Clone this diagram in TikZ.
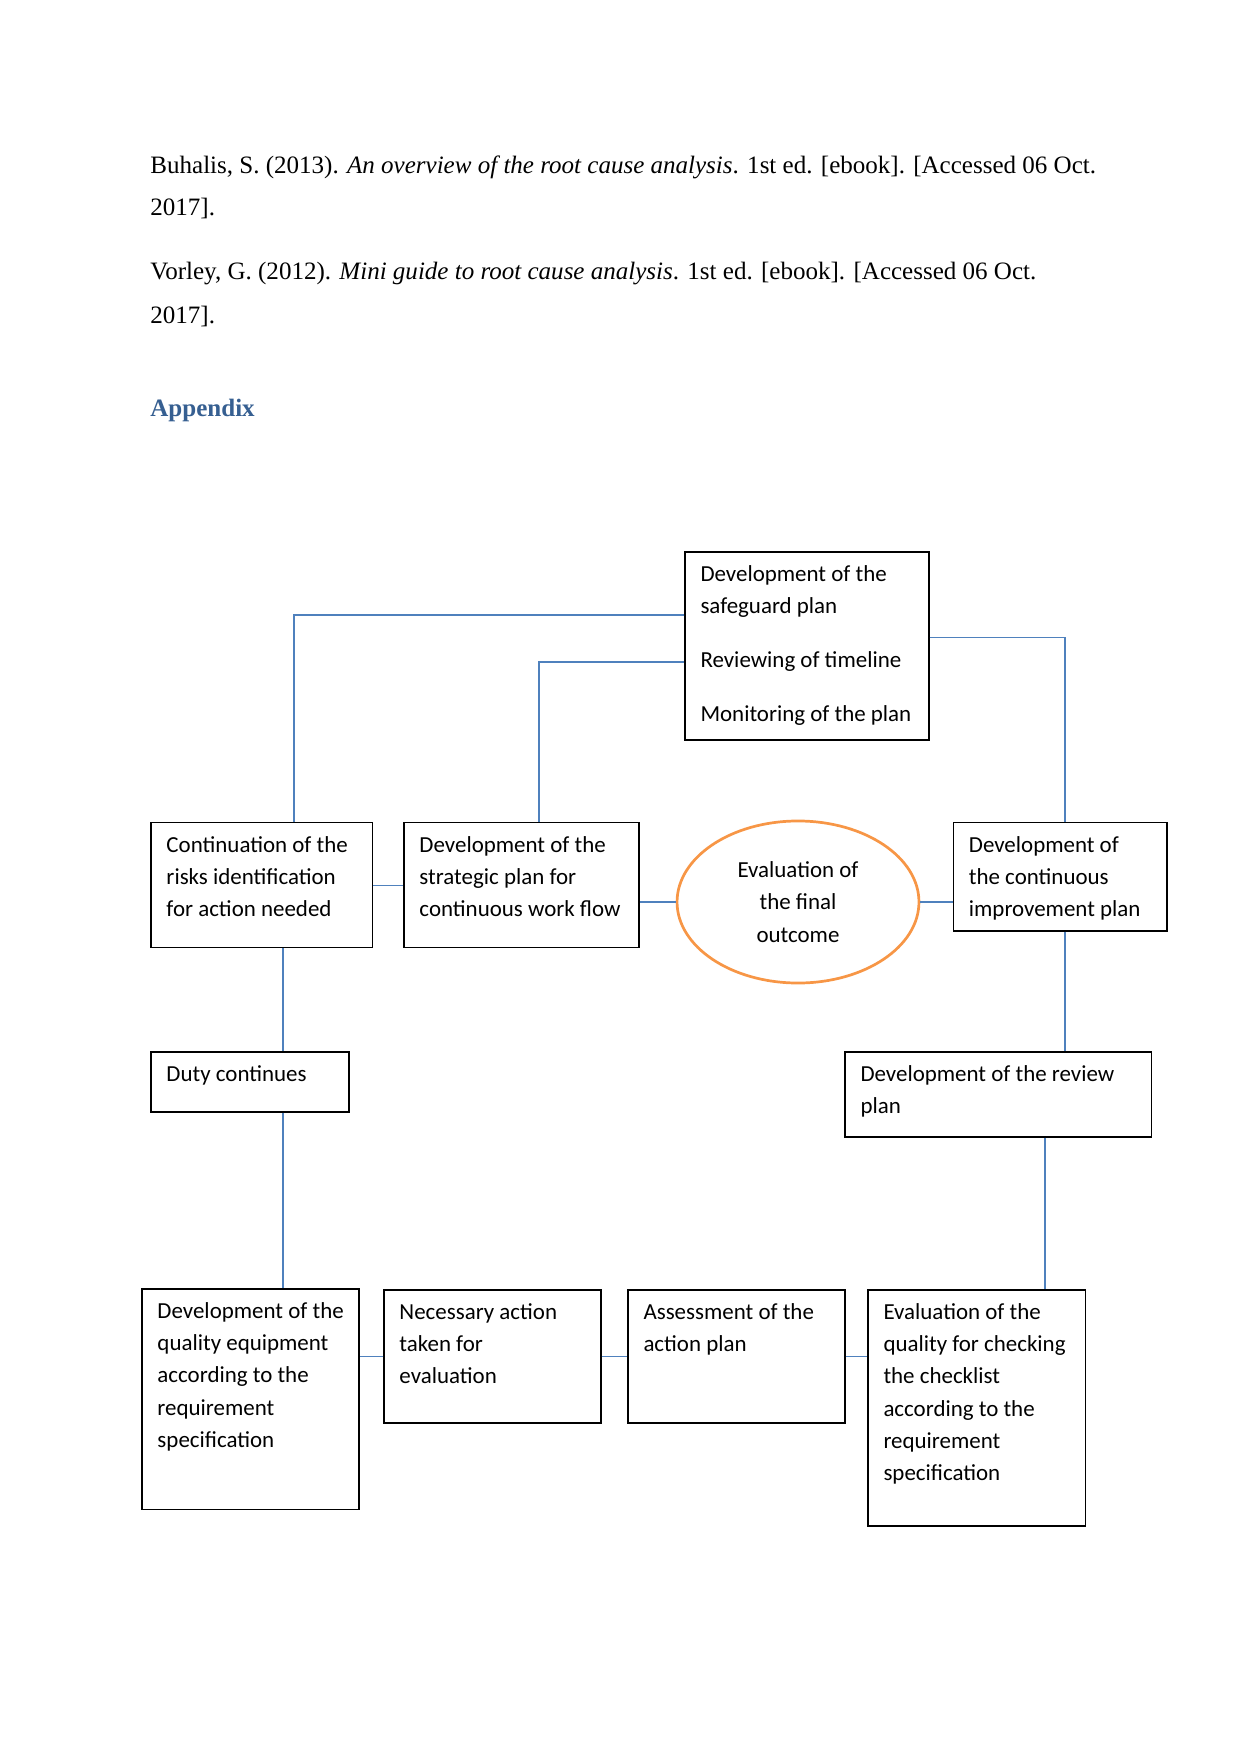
\documentclass[tikz,border=0pt]{standalone}
\usepackage{fontspec}
\setmainfont{Liberation Serif}
\newfontfamily\boxfont{Carlito}
\usetikzlibrary{fit,shapes.geometric,calc}
\definecolor{connblue}{HTML}{4F81BD}
\definecolor{ellorange}{HTML}{F79646}
\definecolor{headblue}{HTML}{365F91}
\tikzset{
  boxnode/.style={draw=black, line width=0.6pt, inner sep=0pt, fit={#1}},
  txt/.style={inner sep=0pt, anchor=north west, align=left, font=\boxfont\fontsize{11}{15.4}\selectfont},
  conn/.style={draw=connblue, line width=0.55pt},
  reftext/.style={inner sep=0pt, anchor=base west, font=\fontsize{12}{14}\selectfont}
}
\begin{document}
\begin{tikzpicture}[x=0.4795pt,y=-0.4795pt]
\useasboundingbox (0,0) rectangle (1241,1754);

% references
\node[reftext] (r1) at (150,174) {Buhalis, S. (2013). \textit{An overview of the root cause analysis}. 1st ed. [ebook]. [Accessed 06 Oct.};
\node[reftext] (r2) at (150,216) {2017].};
\node[reftext] (r3) at (150,280) {Vorley, G. (2012). \textit{Mini guide to root cause analysis}. 1st ed. [ebook]. [Accessed 06 Oct.};
\node[reftext] (r4) at (150,324) {2017].};
\node[reftext, font=\fontsize{12}{14}\selectfont\bfseries, text=headblue] (app) at (150,417) {Appendix};

% boxes
\node[boxnode={(685,552) (929,740)}] (safe) {};
\node[boxnode={(151,822.5) (372.6,947.8)}] (cont) {};
\node[boxnode={(404,822.5) (639,947.8)}] (strat) {};
\node[boxnode={(953.4,822.5) (1167,931)}] (impr) {};
\node[boxnode={(151,1052) (349,1112)}] (duty) {};
\node[boxnode={(845,1052) (1151.5,1137)}] (rev) {};
\node[boxnode={(142,1289) (359,1509.6)}] (qual) {};
\node[boxnode={(384,1290) (601,1423)}] (nec) {};
\node[boxnode={(628,1290) (845,1423)}] (ass) {};
\node[boxnode={(868,1290) (1085.5,1526)}] (evq) {};
\node[draw=ellorange, line width=1.3pt, ellipse, minimum width=116pt, minimum height=77.7pt, inner sep=0pt] (ell) at (798,902) {};

% texts
\node[txt] (safe-t) at ($(safe.north west)+(15.7,14)$) {Development of the\\safeguard plan\\[10.3pt]Reviewing of timeline\\[10.3pt]Monitoring of the plan};
\node[txt] (cont-t) at ($(cont.north west)+(15.7,14)$) {Continuation of the\\risks identification\\for action needed};
\node[txt] (strat-t) at ($(strat.north west)+(15.7,14)$) {Development of the\\strategic plan for\\continuous work flow};
\node[txt] (impr-t) at ($(impr.north west)+(15.7,14)$) {Development of\\the continuous\\improvement plan};
\node[txt] (duty-t) at ($(duty.north west)+(15.7,14)$) {Duty continues};
\node[txt] (rev-t) at ($(rev.north west)+(15.7,14)$) {Development of the review\\plan};
\node[txt] (qual-t) at ($(qual.north west)+(15.7,14)$) {Development of the\\quality equipment\\according to the\\requirement\\specification};
\node[txt] (nec-t) at ($(nec.north west)+(15.7,14)$) {Necessary action\\taken for\\evaluation};
\node[txt] (ass-t) at ($(ass.north west)+(15.7,14)$) {Assessment of the\\action plan};
\node[txt] (evq-t) at ($(evq.north west)+(15.7,14)$) {Evaluation of the\\quality for checking\\the checklist\\according to the\\requirement\\specification};
\node[txt, anchor=center, align=center] (ell-t) at (ell.center) {Evaluation of\\the final\\outcome};

% connectors
\coordinate (b1) at (294,615);
\coordinate (b2) at (539,662);
\coordinate (b3) at (1065,637.5);
\coordinate (c4) at (283,1000);
\coordinate (c5) at (1045,1200);
\draw[conn] (safe.west |- b1) -- (b1) -- (b1 |- cont.north);
\draw[conn] (safe.west |- b2) -- (b2) -- (b2 |- strat.north);
\draw[conn] (safe.east |- b3) -- (b3) -- (b3 |- impr.north);
\draw[conn] (cont.east) -- (strat.west);
\draw[conn] (ell.west) -- (ell.west -| strat.east);
\draw[conn] (ell.east) -- (ell.east -| impr.west);
\draw[conn] (c4 |- cont.south) -- (c4 |- duty.north);
\draw[conn] (c4 |- duty.south) -- (c4 |- qual.north);
\draw[conn] (b3 |- impr.south) -- (b3 |- rev.north);
\draw[conn] (c5 |- rev.south) -- (c5 |- evq.north);
\draw[conn] (nec.west) -- (nec.west -| qual.east);
\draw[conn] (nec.east) -- (ass.west);
\draw[conn] (ass.east) -- (ass.east -| evq.west);
\end{tikzpicture}
\end{document}
